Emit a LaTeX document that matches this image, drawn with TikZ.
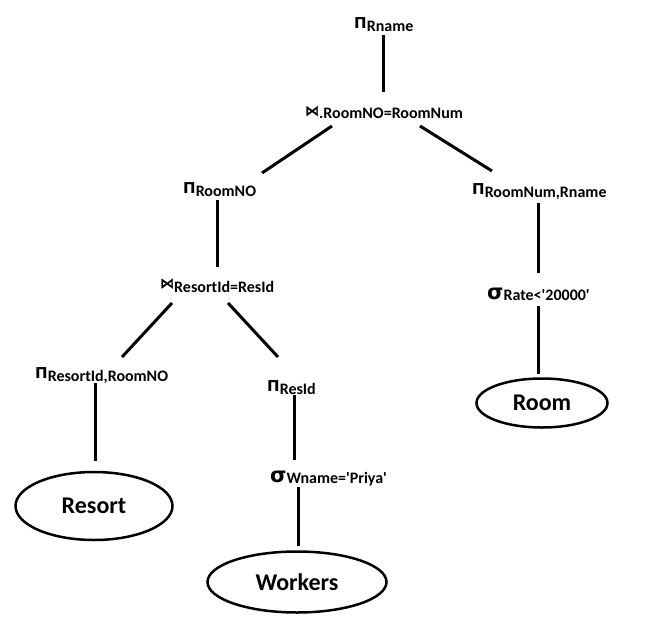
\documentclass[tikz,border=0pt]{standalone}
\usepackage{fontspec}
\setmainfont{Carlito}
\newfontfamily\djv{DejaVu Sans}
\newfontfamily\bowfam{DejaVu Sans}[FakeBold=2.5]
\usetikzlibrary{calc,shapes.geometric}
\newcommand\symf{\djv\bfseries\fontsize{15}{15}\selectfont}
\newcommand\subf{\fontsize{16}{16}\selectfont}
\newcommand\sigf{\djv\bfseries\fontsize{21}{21}\selectfont}
\newcommand\bowf{\bowfam\mdseries\fontsize{14}{14}\selectfont}
\newcommand\pilab[1]{{\symf Π}\raisebox{-3pt}{\subf #1}}
\newcommand\siglab[1]{{\sigf σ}\raisebox{-1pt}{\subf #1}}
\newcommand\joinlab[2]{\raisebox{#2}{\bowf ⋈}{\subf #1}}
\newcommand\sq{\textquotesingle}
\tikzset{
  lab/.style={inner sep=0pt, anchor=base west, font=\bfseries},
  rel/.style={draw, ellipse, line width=2.5pt, inner sep=0pt, font=\bfseries\fontsize{24}{24}\selectfont},
  edge/.style={line width=3pt}
}
\begin{document}
\begin{tikzpicture}[x=1pt,y=-1pt]
\useasboundingbox[fill=white] (0,0) rectangle (656,621);
% labels
\node[lab] (n1) at (354,28) {\pilab{Rname}};
\node[lab] (n2) at (305,118) {\joinlab{.RoomNO=RoomNum}{2.5pt}};
\node[lab] (n3) at (183,193) {\pilab{RoomNO}};
\node[lab] (n5) at (472,194) {\pilab{RoomNum,Rname}};
\node[lab] (n4) at (160,292) {\joinlab{ResortId=ResId}{4pt}};
\node[lab] (n6) at (487,299) {\siglab{Rate<\sq20000\sq}};
\node[lab] (n7) at (35,378) {\pilab{ResortId,RoomNO}};
\node[lab] (n8) at (267,391) {\pilab{ResId}};
\node[lab] (n9) at (270,482) {\siglab{Wname=\sq Priya\sq}};
% relations
\node[rel, minimum width=157pt, minimum height=68pt] (resort) at (94,506) {Resort};
\node[rel, minimum width=179pt, minimum height=61pt] (workers) at (297,582) {Workers};
\node[rel, minimum width=131pt, minimum height=49pt] (room) at (542,403) {Room};
% connectors
\draw[edge] ($(n1.base west)+(29,7)$) -- ($(n2.base west)+(78,-26)$);
\draw[edge] ($(n2.base west)+(27,8)$) -- ($(n3.base west)+(79,-20)$);
\draw[edge] ($(n2.base west)+(115,8)$) -- ($(n5.base west)+(20,-23)$);
\draw[edge] ($(n3.base west)+(34,7)$) -- ($(n4.base west)+(57,-25)$);
\draw[edge] ($(n5.base west)+(66,9)$) -- ($(n6.base west)+(51,-26)$);
\draw[edge] ($(n4.base west)+(12,11)$) -- ($(n7.base west)+(87,-21)$);
\draw[edge] ($(n4.base west)+(68,11)$) -- ($(n8.base west)+(11,-34)$);
\draw[edge] ($(n7.base west)+(60,5)$) -- ($(resort.north)+(1,-10)$);
\draw[edge] ($(n8.base west)+(27,4)$) -- ($(n9.base west)+(24,-22)$);
\draw[edge] ($(n9.base west)+(28,5)$) -- ($(workers.north)+(1,-4.5)$);
\draw[edge] ($(n6.base west)+(51,7)$) -- ($(room.north)+(-4,-3.5)$);
\end{tikzpicture}
\end{document}
